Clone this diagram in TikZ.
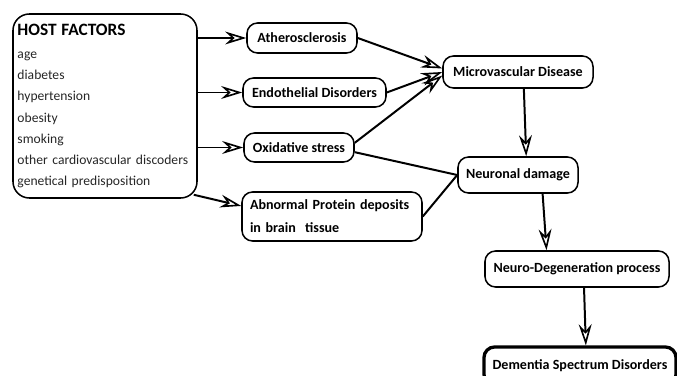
\documentclass[tikz,border=0pt]{standalone}
\usepackage{fontspec}
\setmainfont{Carlito}
\usetikzlibrary{arrows.meta,calc}
\tikzset{
	factorbox/.style={draw, line width=1.3pt, rounded corners=14pt, text width=5.25cm, inner xsep=0.135cm, minimum height=5.52cm, align=left, font=\fontsize{11.6}{18.1}\selectfont, text=black!85},
	causebox/.style={draw, line width=1.3pt, rounded corners=9pt, inner sep=0pt, font=\fontsize{12}{19.5}\selectfont\bfseries},
	endbox/.style={causebox, line width=2.8pt},
	link/.style={line width=1.7pt},
	feed/.style={link, -{Stealth[open, length=18pt, width=11pt, inset=6pt, line width=1.4pt]}},
}

\begin{document}
\begin{tikzpicture}[x=0.03cm, y=-0.03cm]
			%%%%% START %%%%%
			
			\useasboundingbox (0, 0) rectangle (677, 376);
			
			\node[factorbox] (host) at (105, 106) {{\fontsize{14.8}{18}\selectfont\bfseries\color{black} HOST FACTORS}\\[1.6pt]
				age\\ diabetes\\ hypertension\\ obesity\\ smoking\\ other cardiovascular discoders\\ genetical predisposition};
			
			\node[causebox, minimum width=3.3cm, minimum height=0.9cm] (ath) at (302, 38) {Atherosclerosis};
			\node[causebox, minimum width=4.29cm, minimum height=0.87cm] (endo) at (314.5, 92.5) {Endothelial Disorders};
			\node[causebox, minimum width=3.3cm, minimum height=0.87cm] (oxid) at (299, 147.5) {Oxidative stress};
			\node[causebox, text width=4.92cm, inner xsep=0.24cm, minimum height=1.47cm, align=left] (abn) at (332, 216.5) {Abnormal Protein deposits\\ in brain\ \ tissue};
			
			\node[causebox, minimum width=4.5cm, minimum height=0.96cm] (micro) at (518, 72) {Microvascular Disease};
			\node[causebox, minimum width=3.6cm, minimum height=1.08cm] (neur) at (518, 175) {Neuronal damage};
			\node[causebox, minimum width=5.52cm, minimum height=1.08cm] (ndeg) at (577, 269) {Neuro-Degeneration process};
			\node[endbox, minimum width=5.76cm, minimum height=1.14cm] (dem) at (580, 366) {Dementia Spectrum Disorders};
			
			% host factors
			\draw[feed] (host.east |- ath) -- (ath.west);
			\draw[feed] (host.east |- endo) -- (endo.west);
			\draw[feed] (host.east |- oxid) -- (oxid.west);
			\draw[feed] ($(host.south east)+(-4, -4)$) -- ([yshift=9pt]abn.west);
			
			% into microvascular disease
			\draw[feed] (ath.east) -- ([yshift=3pt]micro.west);
			\draw[feed] (endo.east) -- (micro.west);
			\draw[feed] ([yshift=4pt]oxid.east) -- ([yshift=-3pt]micro.west);
			
			% into neuronal damage
			\draw[link] ([yshift=-4pt]oxid.east) -- (neur.west);
			\draw[link] (abn.east) -- (neur.west);
			\draw[feed] ([xshift=5pt]micro.south) -- ([xshift=7pt]neur.north);
			
			\draw[feed] ([xshift=21pt]neur.south) -- ([xshift=-26pt]ndeg.north);
			\draw[feed] ([xshift=6pt]ndeg.south) -- ([xshift=5pt]dem.north);
			
			%%%%% END %%%%%
\end{tikzpicture}
\end{document}
